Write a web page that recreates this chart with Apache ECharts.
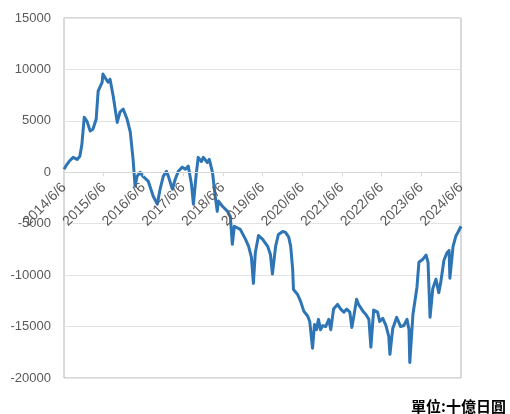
<!DOCTYPE html>
<html>
<head>
<meta charset="utf-8">
<script src="https://cdn.jsdelivr.net/npm/echarts@6/dist/echarts.min.js"></script>
<style>
  html, body { margin: 0; padding: 0; background: #fff; }
  #chart { width: 510px; height: 414px; }
</style>
</head>
<body>
<div id="chart"></div>
<script>
// 橫軸: 以 2014/6/6 起算的年數
const startYear = 2014;

const yearOffsets = [
    0, 0.08, 0.15, 0.23, 0.33, 0.40, 0.45, 0.51, 0.58, 0.66,
    0.73, 0.81, 0.86, 0.96, 0.98, 1.06, 1.11, 1.16, 1.24, 1.34,
    1.41, 1.49, 1.59, 1.67, 1.74, 1.79, 1.84, 1.92, 1.99, 2.12,
    2.25, 2.35, 2.42, 2.50, 2.58, 2.63, 2.73, 2.80, 2.88, 2.98,
    3.06, 3.13, 3.21, 3.26, 3.33, 3.38, 3.46, 3.51, 3.61, 3.66,
    3.74, 3.81, 3.86, 3.89, 3.99, 4.12, 4.19, 4.24, 4.29, 4.44,
    4.57, 4.65, 4.72, 4.77, 4.82, 4.90, 5.00, 5.13, 5.20, 5.25,
    5.33, 5.40, 5.51, 5.58, 5.66, 5.71, 5.76, 5.78, 5.88, 5.96,
    6.04, 6.14, 6.19, 6.26, 6.31, 6.36, 6.41, 6.46, 6.52, 6.59,
    6.67, 6.72, 6.79, 6.89, 6.97, 7.05, 7.12, 7.20, 7.25, 7.30,
    7.37, 7.42, 7.53, 7.60, 7.68, 7.73, 7.80, 7.90, 7.95, 8.03,
    8.11, 8.18, 8.21, 8.28, 8.38, 8.48, 8.56, 8.64, 8.69, 8.71,
    8.79, 8.89, 8.94, 9.04, 9.12, 9.17, 9.22, 9.29, 9.37, 9.44,
    9.49, 9.57, 9.65, 9.70, 9.72, 9.80, 9.87, 9.92, 10.0
];

const values = [
    300, 800, 1150, 1450, 1250, 1550, 2700, 5350, 4950, 4000,
    4200, 5150, 7900, 8750, 9550, 9050, 8750, 9050, 7400, 4850,
    5850, 6150, 5150, 3900, 1250, -1350, -400, 0, -400, -850,
    -2350, -3100, -1650, -400, 100, -400, -1650, -700, 100, 500,
    300, 600, -1150, -3100, -200, 1450, 1050, 1450, 950, 1250,
    0, -2350, -3800, -2800, -3300, -3800, -4300, -7000, -5250, -5550,
    -6500, -7200, -8250, -10800, -7800, -6150, -6500, -7200, -8000, -9900,
    -7200, -6050, -5750, -5850, -6300, -7200, -9450, -11400, -11850, -12550,
    -13500, -14000, -14500, -17100, -14800, -15300, -14300, -15300, -14900, -15000,
    -14300, -15300, -13300, -12850, -13300, -13600, -13300, -13600, -15100, -14000,
    -12350, -12850, -13500, -13800, -14300, -17000, -13400, -13600, -14500, -14200,
    -14900, -15950, -17700, -15200, -14100, -15000, -14900, -14300, -15300, -18500,
    -13800, -11200, -8750, -8450, -8050, -8750, -14100, -11300, -10400, -11700,
    -10700, -8550, -7800, -7600, -10300, -7200, -6200, -5850, -5250
];

const yMin = -20000;
const yMax = 15000;
const yStep = 5000;

const unitText = '單位:十億日圓';

const seriesData = yearOffsets.map((t, i) => [t, values[i]]);

const chart = echarts.init(document.getElementById('chart'));

const gridTop = 18;
const gridBottom = 36;
const gridHeight = 414 - gridTop - gridBottom;
// 橫軸線放在 0 的位置
const zeroOffset = -gridHeight * (0 - yMin) / (yMax - yMin);

const labelFont = {
    color: '#595959',
    fontSize: 13,
    fontFamily: 'Liberation Sans, Arial, sans-serif'
};

chart.setOption({
    animation: false,
    backgroundColor: '#fff',
    grid: {
        left: 64,
        right: 49,
        top: gridTop,
        bottom: gridBottom,
        containLabel: false,
        outerBoundsMode: 'none',
        show: true,
        borderColor: '#b4b4b4',
        borderWidth: 1
    },
    xAxis: {
        type: 'value',
        min: 0,
        max: 10,
        interval: 1,
        position: 'bottom',
        offset: zeroOffset,
        z: 5,
        axisLine: {
            onZero: false,
            lineStyle: { color: '#d9d9d9', width: 1 }
        },
        axisTick: {
            show: true,
            length: 4,
            lineStyle: { color: '#d9d9d9' }
        },
        splitLine: { show: false },
        axisLabel: Object.assign({}, labelFont, {
            fontSize: 14,
            rotate: 45,
            margin: 13,
            showMinLabel: true,
            showMaxLabel: true,
            formatter: v => (startYear + v) + '/6/6'
        })
    },
    yAxis: {
        type: 'value',
        min: yMin,
        max: yMax,
        interval: yStep,
        axisLine: { show: false, onZero: false },
        axisTick: { show: false },
        splitLine: { lineStyle: { color: '#e3e3e3', width: 1 } },
        axisLabel: Object.assign({}, labelFont, {
            margin: 13,
            formatter: v => String(v)
        })
    },
    series: [{
        type: 'line',
        data: seriesData,
        symbol: 'none',
        smooth: false,
        z: 3,
        lineStyle: { color: '#2e75b6', width: 3, join: 'round' }
    }],
    graphic: [{
        type: 'text',
        left: 411,
        top: 399,
        style: {
            text: unitText,
            fill: '#000',
            fontSize: 15,
            fontWeight: 'bold',
            fontFamily: 'Noto Sans CJK TC, sans-serif'
        }
    }]
});
</script>
</body>
</html>
